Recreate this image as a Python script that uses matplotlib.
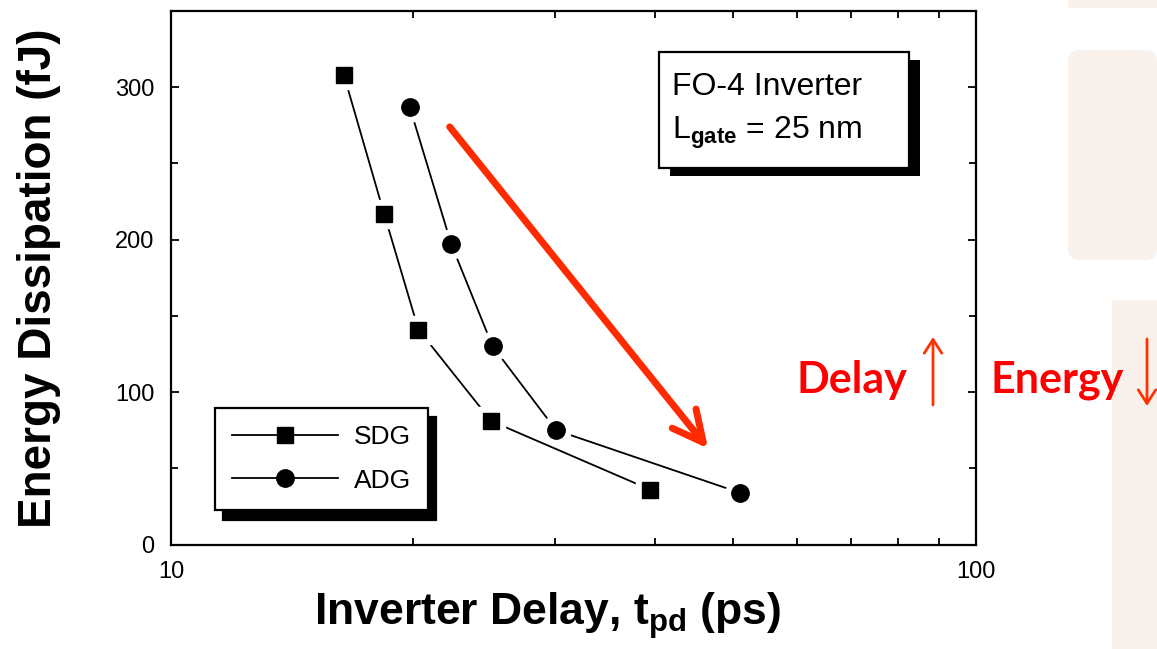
import numpy as np
import matplotlib.pyplot as plt
from matplotlib.lines import Line2D
from matplotlib.patches import Rectangle, FancyBboxPatch, FancyArrowPatch
from matplotlib import patheffects as pe
from matplotlib.ticker import MultipleLocator, LogLocator, FixedLocator, NullFormatter, FuncFormatter

plt.rcParams['font.family'] = ['Liberation Sans', 'DejaVu Sans']
plt.rcParams['mathtext.fontset'] = 'custom'
plt.rcParams['mathtext.rm'] = 'Liberation Sans'
plt.rcParams['mathtext.it'] = 'Liberation Sans'
plt.rcParams['mathtext.bf'] = 'Liberation Sans:bold'

# delay (ps) vs energy (fJ), FO-4 inverter
sdg_delay = [16.4, 18.4, 20.3, 25.0, 39.4]
sdg_energy = [308, 217, 141, 81, 36]
adg_delay = [19.8, 22.3, 25.1, 30.1, 50.9]
adg_energy = [287, 197, 130, 75, 34]
series_names = ['SDG', 'ADG']

fig = plt.figure(figsize=(11.57, 6.49), dpi=100)

# pale slide panels on the right
pink = '#f9f1ec'
fig.patches.append(Rectangle((1068, 641), 89, 8, transform=None, facecolor=pink, edgecolor='none'))
fig.patches.append(FancyBboxPatch((1068, 389), 89, 210, boxstyle='round,pad=0,rounding_size=12',
                                  transform=None, facecolor=pink, edgecolor='none'))
fig.patches.append(Rectangle((1112, 0), 45, 349, transform=None, facecolor=pink, edgecolor='none'))

ax = fig.add_axes([0.1478, 0.161, 0.6955, 0.822])
ax.set_facecolor('white')

ax.set_xscale('log')
ax.set_xlim(10, 100)
ax.set_ylim(0, 350)

# lines first, then a white halo under each marker to leave a small gap
ax.plot(sdg_delay, sdg_energy, color='black', lw=1.3, zorder=2)
ax.plot(adg_delay, adg_energy, color='black', lw=1.3, zorder=2)
ax.plot(sdg_delay, sdg_energy, ls='none', marker='s', ms=20, color='white', zorder=3)
ax.plot(adg_delay, adg_energy, ls='none', marker='o', ms=21, color='white', zorder=3)
ax.plot(sdg_delay, sdg_energy, ls='none', marker='s', ms=11.5, color='black', zorder=4)
ax.plot(adg_delay, adg_energy, ls='none', marker='o', ms=12.5, color='black', zorder=4)

# ticks on all four sides, pointing in
ax.yaxis.set_major_locator(MultipleLocator(100))
ax.yaxis.set_minor_locator(MultipleLocator(50))
ax.xaxis.set_major_locator(FixedLocator([10, 100]))
ax.xaxis.set_minor_locator(LogLocator(base=10, subs=np.arange(2, 10)))
ax.xaxis.set_minor_formatter(NullFormatter())
ax.xaxis.set_major_formatter(FuncFormatter(lambda v, p: '%d' % v))
ax.tick_params(which='both', direction='in', top=True, right=True, width=1.3, color='black')
ax.tick_params(which='major', length=6, labelsize=17, pad=12)
ax.tick_params(which='minor', length=5)
for s in ax.spines.values():
    s.set_linewidth(1.6)

ax.set_xlabel(r'Inverter Delay, t$_{\mathbf{pd}}$ (ps)', fontsize=32, fontweight='bold')
ax.xaxis.set_label_coords(0.468, -0.085, transform=ax.transAxes)
ax.xaxis.label.set_verticalalignment('top')
ax.set_ylabel('Energy Dissipation (fJ)', fontsize=33, fontweight='bold')
ax.yaxis.set_label_coords(-0.137, 0.5)

# legend with a solid drop shadow
handles = [Line2D([], [], color='black', lw=1.3, marker='s', ms=11.5),
           Line2D([], [], color='black', lw=1.3, marker='o', ms=12.5)]
leg = ax.legend(handles, series_names, loc='lower left', bbox_to_anchor=(0.055, 0.065),
                borderaxespad=0, fontsize=19, handlelength=4.0, handletextpad=0.6,
                labelspacing=0.75, borderpad=0.65, fancybox=False, edgecolor='black',
                framealpha=1, shadow={'ox': 5.5, 'oy': -7, 'facecolor': 'black',
                                      'edgecolor': 'black', 'alpha': 1})
leg.get_frame().set_linewidth(1.6)

# annotation box
box = Rectangle((0.6064, 0.7057), 0.3106, 0.2173, transform=ax.transAxes,
                facecolor='white', edgecolor='black', lw=1.6, zorder=5)
box.set_path_effects([pe.SimplePatchShadow(offset=(8, -6), shadow_rgbFace='black', alpha=1),
                      pe.Normal()])
ax.add_patch(box)
ax.text(0.622, 0.857, 'FO-4 Inverter', transform=ax.transAxes, fontsize=23,
        va='center', ha='left', zorder=6)
ax.text(0.622, 0.772, r'L$_{\mathbf{gate}}$ = 25 nm', transform=ax.transAxes, fontsize=23,
        va='center', ha='left', zorder=6)

# trend arrow
red = '#ff2a00'
ax.annotate('', xy=(46.5, 63), xytext=(22.2, 274),
            arrowprops=dict(arrowstyle='->,head_length=1.1,head_width=0.55', color=red,
                            lw=5, mutation_scale=20, shrinkA=0, shrinkB=0), zorder=7)

# delay up, energy down
fig.text(797, 256, 'Delay', transform=None, fontsize=31, fontweight='bold',
         color='#ff0000', family='Lato', ha='left', va='baseline', zorder=5)
fig.text(990, 256, 'Energy', transform=None, fontsize=31, fontweight='bold',
         color='#ff0000', family='Lato', ha='left', va='baseline', zorder=5)
fig.add_artist(FancyArrowPatch(
    (933, 244), (933, 312), transform=None, arrowstyle='->,head_length=0.7,head_width=0.45',
    mutation_scale=14, color='#ff3300', lw=2, shrinkA=0, shrinkB=0, zorder=5))
fig.add_artist(FancyArrowPatch(
    (1147, 310), (1147, 243), transform=None, arrowstyle='->,head_length=0.7,head_width=0.45',
    mutation_scale=14, color='#ff3300', lw=2, shrinkA=0, shrinkB=0, zorder=5))

fig.savefig('out.png', dpi=100)
